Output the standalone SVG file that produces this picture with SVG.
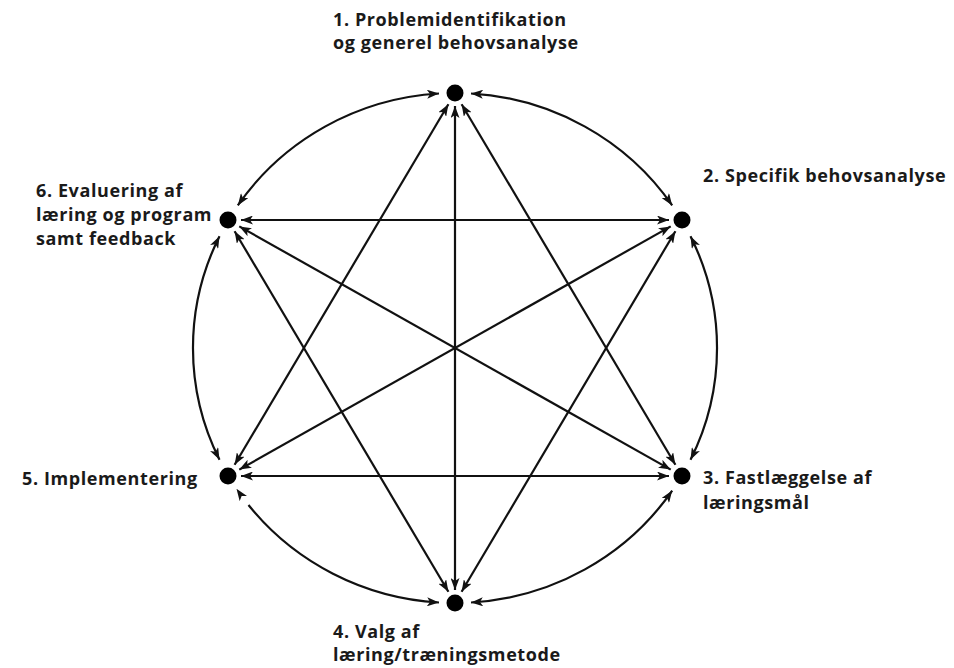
<svg xmlns="http://www.w3.org/2000/svg" width="954" height="668" viewBox="0 0 954 668">
<style>
.lbl{font-family:"Open Sans","Liberation Sans",sans-serif;font-weight:700;font-size:18px;letter-spacing:0.6px;fill:#1a1a1a}
.dot{fill:#000}
.c{fill:none;stroke:#111;stroke-width:2.2;marker-start:url(#ah);marker-end:url(#ah)}
.c1{fill:none;stroke:#111;stroke-width:2.2}
</style>
<defs>
<marker id="ah" viewBox="0 0 12 9" refX="12" refY="4.5" markerWidth="12" markerHeight="9" markerUnits="userSpaceOnUse" orient="auto-start-reverse">
<path d="M0,0 L12,4.5 L0,9 L3,4.5 z" fill="#111"/>
</marker>
</defs>
<rect width="954" height="668" fill="#fff"/>
<g id="connectors">
<path class="c" d="M471,93.5 A262 255 0 0 1 672.2,205.4"/>
<path class="c" d="M690.5,236.2 A262 255 0 0 1 690.5,459.8"/>
<path class="c" d="M672.2,490.6 A262 255 0 0 1 471,602.5"/>
<path class="c1" d="M439,602.5 A262 255 0 0 1 248.5,505" marker-start="url(#ah)"/>
<path class="c1" d="M240.4,494.3 L236.5,488.7" marker-end="url(#ah)" stroke-opacity="0"/>
<path class="c" d="M219.5,459.8 A262 255 0 0 1 219.5,236.2"/>
<path class="c" d="M237.8,205.4 A262 255 0 0 1 439,93.5"/>
<line class="c" x1="455" y1="106" x2="455" y2="590"/>
<line class="c" x1="669" y1="220" x2="241" y2="220"/>
<line class="c" x1="669" y1="476" x2="241" y2="476"/>
<line class="c" x1="670.7" y1="226.4" x2="239.3" y2="469.6"/>
<line class="c" x1="670.7" y1="469.6" x2="239.3" y2="226.4"/>
<line class="c" x1="461.6" y1="104.2" x2="675.4" y2="464.8"/>
<line class="c" x1="448.4" y1="104.2" x2="234.6" y2="464.8"/>
<line class="c" x1="461.6" y1="591.8" x2="675.4" y2="231.2"/>
<line class="c" x1="448.4" y1="591.8" x2="234.6" y2="231.2"/>
</g>
<g id="node1">
<circle class="dot" cx="455" cy="93" r="8.5"/>
<text class="lbl" x="333" y="26">1. Problemidentifikation</text>
<text class="lbl" x="333" y="49">og generel behovsanalyse</text>
</g>
<g id="node2">
<circle class="dot" cx="682" cy="220" r="8.5"/>
<text class="lbl" x="703" y="182">2. Specifik behovsanalyse</text>
</g>
<g id="node3">
<circle class="dot" cx="682" cy="476" r="8.5"/>
<text class="lbl" x="703" y="484">3. Fastlæggelse af</text>
<text class="lbl" x="703" y="509">læringsmål</text>
</g>
<g id="node4">
<circle class="dot" cx="455" cy="603" r="8.5"/>
<text class="lbl" x="333" y="638">4. Valg af</text>
<text class="lbl" x="333" y="661">læring/træningsmetode</text>
</g>
<g id="node5">
<circle class="dot" cx="228" cy="476" r="8.5"/>
<text class="lbl" x="22" y="485">5. Implementering</text>
</g>
<g id="node6">
<circle class="dot" cx="228" cy="220" r="8.5"/>
<text class="lbl" x="36" y="197">6. Evaluering af</text>
<text class="lbl" x="36" y="221">læring og program</text>
<text class="lbl" x="36" y="245">samt feedback</text>
</g>
</svg>
